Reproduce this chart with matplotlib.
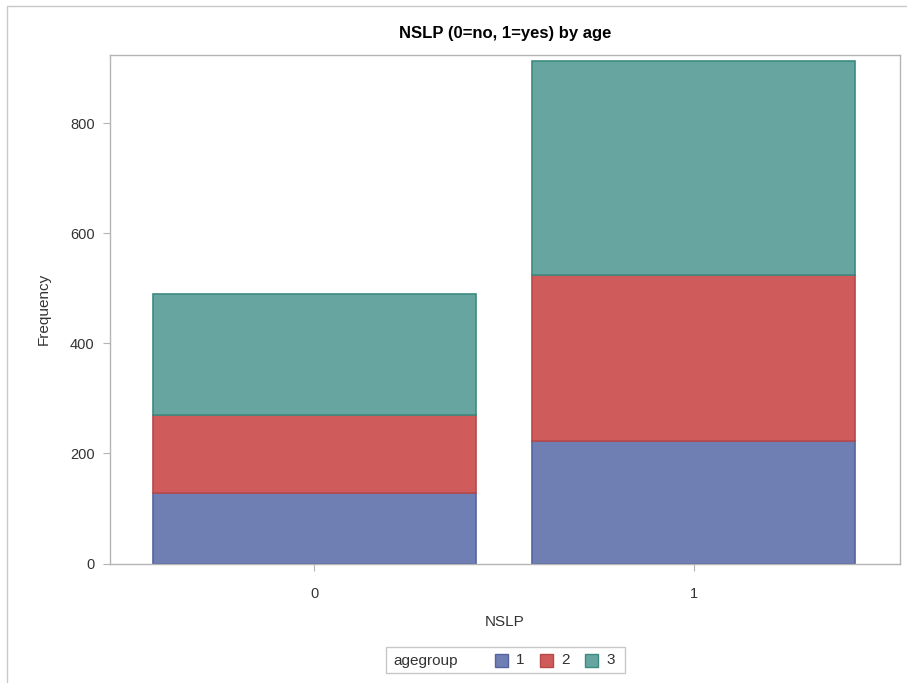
import matplotlib.pyplot as plt
from matplotlib.patches import Rectangle

plt.rcParams['font.family'] = ['Liberation Sans', 'DejaVu Sans']

nslp = ["0", "1"]
agegroups = ["1", "2", "3"]
freq = {
    "1": [128, 223],
    "2": [141, 302],
    "3": [221, 388],
}
fills = {"1": "#6F7EB3", "2": "#D05B5B", "3": "#66A5A0"}
edges = {"1": "#5664A0", "2": "#B84848", "3": "#3C8A80"}

W, H = 907, 683
fig = plt.figure(figsize=(W / 100, H / 100), dpi=100)


def px(x, y):
    # figure pixel coords (from top-left) -> figure fraction
    return x / W, 1 - y / H


# outer frame
fig.patches.append(Rectangle(px(7, 700), 1.0, (700 - 6) / H, transform=fig.transFigure,
                             fill=False, edgecolor="#C8C8C8", linewidth=1.0))

ax = fig.add_axes([110 / W, 1 - 563.5 / H, 790 / W, 508.5 / H])

x = range(len(nslp))
bottom = [0, 0]
for g in agegroups:
    ax.bar(x, freq[g], bottom=bottom, width=0.853, color=fills[g],
           edgecolor=edges[g], linewidth=1.2, label=g, zorder=2)
    bottom = [b + v for b, v in zip(bottom, freq[g])]

ax.set_xlim(-0.539, 1.544)
ax.set_ylim(0, 924)
ax.set_xticks(list(x))
ax.set_xticklabels(nslp)
ax.set_yticks([0, 200, 400, 600, 800])

for s in ax.spines.values():
    s.set_color("#B4B4B4")
    s.set_linewidth(1.0)
ax.tick_params(colors="#B4B4B4", labelcolor="#333333", labelsize=10.5, length=5)
ax.tick_params(axis="y", pad=6)
ax.tick_params(axis="x", pad=12)

ax.set_title("NSLP (0=no, 1=yes) by age", fontsize=12, fontweight="bold", pad=12)
ax.set_xlabel("NSLP", fontsize=11, color="#333333", labelpad=10)
ax.set_ylabel("Frequency", fontsize=11, color="#333333", labelpad=14)

# legend: title on the left, entries in a row, all inside one box
fig.patches.append(Rectangle(px(386, 673), 239 / W, 26 / H, transform=fig.transFigure,
                             facecolor="white", edgecolor="#C8C8C8", linewidth=1.0))
fig.text(*px(393, 660.5), "agegroup", fontsize=11, color="#333333", ha="left", va="center")
for i, g in enumerate(agegroups):
    x0 = 495 + 45 * i
    fig.patches.append(Rectangle(px(x0, 667), 13 / W, 13 / H, transform=fig.transFigure,
                                 facecolor=fills[g], edgecolor=edges[g], linewidth=1.0))
    fig.text(*px(x0 + 21, 660.5), g, fontsize=11, color="#333333", ha="left", va="center")

fig.savefig("out.png", dpi=100)
